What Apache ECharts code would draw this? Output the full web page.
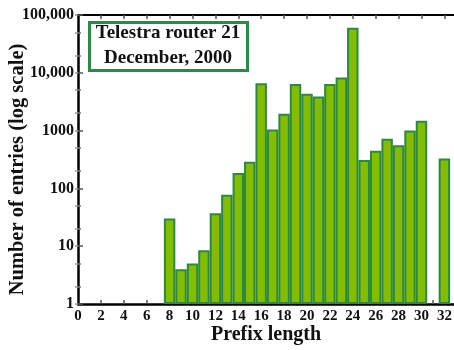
<!DOCTYPE html>
<html>
<head>
<meta charset="utf-8">
<script src="https://cdn.jsdelivr.net/npm/echarts@6/dist/echarts.min.js"></script>
<style>html,body{margin:0;padding:0;background:#fff}#c{width:454px;height:350px}</style>
</head>
<body>
<div id="c"></div>
<script>
const prefixLengths = [8, 9, 10, 11, 12, 13, 14, 15, 16, 17, 18, 19, 20, 21, 22, 23, 24, 25, 26, 27, 28, 29, 30, 32];
const entryCounts = [30, 4, 5, 8.5, 37, 78, 185, 290, 6600, 1040, 1950, 6400, 4350, 3900, 6400, 8300, 60000, 310, 450, 720, 560, 1000, 1480, 330];
const xTickLabels = [0, 2, 4, 6, 8, 10, 12, 14, 16, 18, 20, 22, 24, 26, 28, 30, 32];
const xBottomTicks = [2, 4, 6, 8, 9, 10, 11, 12, 13, 14, 15, 16, 17, 18, 19, 20, 21, 22, 23, 24, 25, 26, 27, 28, 29, 30, 31, 32];
const xTopTicks = [2, 4, 6, 8, 10, 12, 14, 16, 18, 20, 22, 24, 26, 28, 30, 32];
const yTickLabels = {1: '1', 10: '10', 100: '100', 1000: '1000', 10000: '10,000', 100000: '100,000'};
const yMinorMultipliers = [2, 5];
const titleLines = ['Telestra router 21', 'December, 2000'];

const FONT = "'Liberation Serif', 'Times New Roman', serif";
const minorLog = [];
for (let d = 0; d < 5; d++) yMinorMultipliers.forEach(m => minorLog.push(d + Math.log10(m)));
const majorLog = [0, 1, 2, 3, 4, 5];

const chart = echarts.init(document.getElementById('c'));
chart.setOption({
  animation: false,
  graphic: [{
    type: 'rect', left: 88, top: 21, z: 10,
    shape: { width: 158, height: 48 },
    style: { fill: '#fff', stroke: '#2b8a48', lineWidth: 3 }
  }, {
    type: 'text', x: 168, y: 20.5, z: 11,
    style: { text: titleLines.join('\n'), fontFamily: FONT, fontWeight: 'bold', fontSize: 19, lineHeight: 25, fill: '#111', align: 'center', verticalAlign: 'top' }
  }],
  grid: { left: 78, right: 0, top: 15, bottom: 46, containLabel: false, outerBoundsMode: 'none' },
  xAxis: [{
    type: 'value', min: 0, max: 32.84, position: 'bottom',
    name: 'Prefix length', nameLocation: 'middle', nameGap: 21, nameMoveOverlap: false,
    nameTextStyle: { fontFamily: FONT, fontWeight: 'bold', fontSize: 20, color: '#111' },
    axisLine: { show: true, lineStyle: { color: '#000', width: 2.5 } },
    axisTick: { show: true, inside: true, length: 4, customValues: xBottomTicks, lineStyle: { color: '#555', width: 1.5 } },
    axisLabel: { customValues: xTickLabels, fontFamily: FONT, fontWeight: 'bold', fontSize: 15, color: '#111', margin: 5 },
    splitLine: { show: false }
  }, {
    type: 'value', min: 0, max: 32.84, position: 'top',
    axisLine: { show: true, onZero: false, lineStyle: { color: '#000', width: 2 } },
    axisTick: { show: true, inside: true, length: 4, customValues: xTopTicks, lineStyle: { color: '#555', width: 1.5 } },
    axisLabel: { show: false },
    splitLine: { show: false }
  }],
  yAxis: [{
    type: 'log', logBase: 10, min: 1, max: 100000, position: 'left',
    name: 'Number of entries (log scale)', nameLocation: 'middle', nameGap: 50, nameMoveOverlap: false,
    nameTextStyle: { fontFamily: FONT, fontWeight: 'bold', fontSize: 20.5, color: '#111', padding: [0, 20, 0, 0] },
    axisLine: { show: true, onZero: false, lineStyle: { color: '#000', width: 2.5 } },
    axisTick: { show: true, inside: true, length: 5, lineStyle: { color: '#555', width: 1.5 } },
    axisLabel: { formatter: v => yTickLabels[Math.round(v)] || '', fontFamily: FONT, fontWeight: 'bold', fontSize: 16, color: '#111', margin: 4 },
    splitLine: { show: false }
  }, {
    type: 'value', min: 0, max: 5, position: 'left',
    axisLine: { show: false },
    axisTick: { show: true, inside: true, length: 3, customValues: minorLog, lineStyle: { color: '#777', width: 1.5 } },
    axisLabel: { show: false },
    splitLine: { show: false }
  }, {
    type: 'value', min: 0, max: 5, position: 'right',
    axisLine: { show: false },
    axisTick: { show: true, inside: true, length: 3, customValues: minorLog.concat(majorLog), lineStyle: { color: '#999', width: 1.5 } },
    axisLabel: { show: false },
    splitLine: { show: false }
  }],
  series: [{
    type: 'bar',
    xAxisIndex: 0, yAxisIndex: 0,
    barWidth: '100%',
    data: prefixLengths.map((p, i) => [p, entryCounts[i]]),
    itemStyle: { color: '#84bc00', borderColor: '#2b8a40', borderWidth: 2 }
  }]
});
</script>
</body>
</html>
